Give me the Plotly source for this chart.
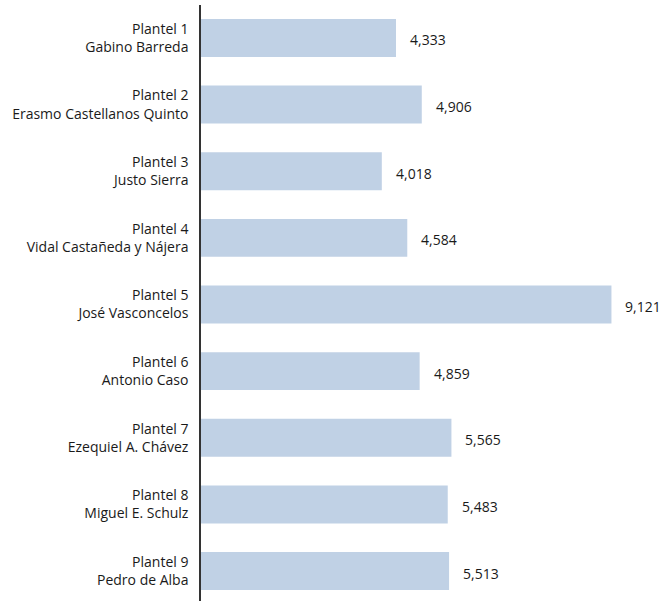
import plotly.graph_objects as go

planteles = ["Plantel 1", "Plantel 2", "Plantel 3", "Plantel 4", "Plantel 5",
             "Plantel 6", "Plantel 7", "Plantel 8", "Plantel 9"]
nombres = ["Gabino Barreda", "Erasmo Castellanos Quinto", "Justo Sierra",
           "Vidal Castañeda y Nájera", "José Vasconcelos", "Antonio Caso",
           "Ezequiel A. Chávez", "Miguel E. Schulz", "Pedro de Alba"]
valores = [4333, 4906, 4018, 4584, 9121, 4859, 5565, 5483, 5513]

etiquetas = [f"{p}<br>{n}" for p, n in zip(planteles, nombres)]
pos = list(range(len(valores)))

fig = go.Figure()
fig.add_trace(go.Bar(
    x=valores, y=pos, orientation="h",
    marker=dict(color="#c0d1e5", line=dict(width=0)),
    width=0.57,
    hoverinfo="skip",
))

for v, p in zip(valores, pos):
    fig.add_annotation(x=v, y=p, text=f"{v:,}", showarrow=False,
                       xanchor="left", yanchor="middle", xshift=12, yshift=-2,
                       font=dict(size=14, color="#1a1a1a"))

fig.update_layout(
    width=664, height=601,
    margin=dict(l=201, r=13, t=5, b=0),
    plot_bgcolor="white", paper_bgcolor="white",
    font=dict(family="Open Sans", size=14, color="#1a1a1a"),
    showlegend=False,
)
fig.update_xaxes(range=[0, 10000], showgrid=False, zeroline=False,
                 showticklabels=False, showline=False, ticks="")
fig.update_yaxes(range=[8.45, -0.495], tickvals=pos, ticktext=etiquetas,
                 showgrid=False, zeroline=False, showline=True,
                 linecolor="#333333", linewidth=1.5, ticks="",
                 ticklabelstandoff=8)

fig.write_html("out.html", config={"displayModeBar": False},
               post_script="document.body.style.margin='0';document.body.style.padding='0';document.body.style.overflow='hidden';")
